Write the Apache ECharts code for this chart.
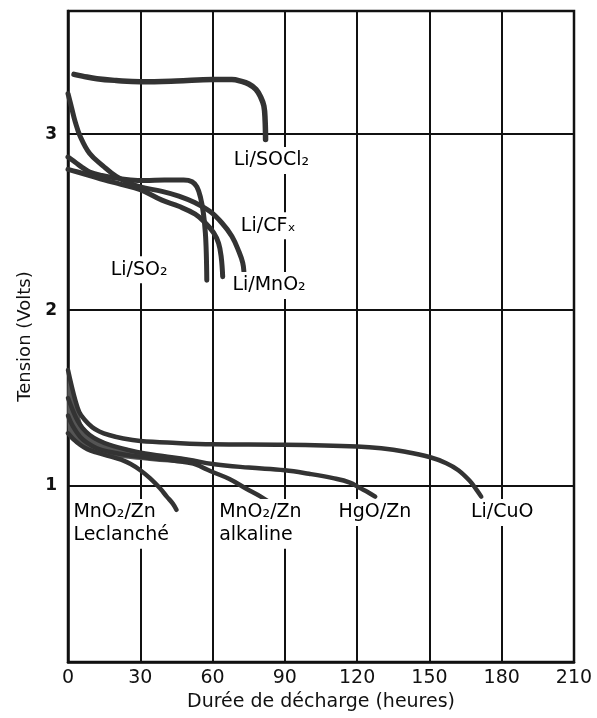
<!DOCTYPE html>
<html><head><meta charset="utf-8">
<script src="https://cdn.jsdelivr.net/npm/echarts@6/dist/echarts.min.js"></script>
<style>html,body{margin:0;padding:0;background:#fff}#c{width:597px;height:718px}</style>
</head><body><div id="c"></div>
<script>
// ---- data (x = hours, y = volts) ----
const liSOCl2 = [[2.5,3.34],[6,3.33],[12,3.315],[20,3.305],[30,3.298],[45,3.302],[60,3.31],[68,3.31],[72,3.30],[75,3.285],[78,3.255],[80,3.21],[81.3,3.16],[81.8,3.08],[82,2.97]];
const liSO2 = [[0,2.87],[3,2.84],[6,2.81],[9,2.785],[14,2.765],[20,2.75],[26,2.74],[32,2.737],[40,2.74],[48,2.74],[51.5,2.73],[53.5,2.70],[55,2.64],[56.2,2.55],[57,2.44],[57.4,2.32],[57.6,2.17]];
const liMnO2 = [[0,2.80],[4,2.785],[9,2.765],[15,2.74],[22,2.715],[30,2.685],[39,2.625],[46,2.59],[52.8,2.545],[57,2.495],[60.4,2.44],[62.5,2.38],[63.6,2.30],[64.2,2.19]];
const liCFx = [[0,3.23],[1.5,3.15],[3,3.07],[5,2.99],[9,2.89],[14.5,2.82],[20,2.76],[25,2.725],[30,2.70],[39,2.675],[46,2.648],[52.8,2.61],[59,2.56],[63.9,2.495],[68,2.42],[71,2.33],[72.5,2.27],[73,2.22]];
const liCuO = [[0,1.66],[1.5,1.57],[3,1.49],[4.7,1.42],[7,1.375],[10,1.335],[13,1.31],[17,1.29],[23,1.27],[30,1.256],[45,1.245],[60,1.238],[90,1.235],[120,1.225],[130,1.215],[140,1.195],[150,1.165],[157,1.13],[162,1.09],[166.7,1.03],[169.5,0.98],[171.5,0.94]];
const hgoZn = [[0,1.50],[2,1.43],[4,1.37],[6,1.33],[9,1.29],[12.6,1.26],[17,1.235],[25,1.205],[32,1.185],[40,1.17],[50,1.15],[60,1.125],[75,1.105],[90,1.09],[100,1.07],[110,1.045],[117,1.02],[121,0.99],[124.5,0.965],[127.5,0.94]];
const mnO2Alk = [[0,1.40],[2,1.34],[5,1.28],[8,1.245],[12,1.215],[17,1.195],[25,1.175],[35,1.158],[45,1.143],[52,1.128],[56,1.105],[60,1.08],[67,1.04],[74,0.985],[80,0.94],[85.5,0.89]];
const mnO2Lec = [[0,1.30],[2,1.27],[5,1.235],[8,1.21],[12,1.19],[17,1.17],[22,1.15],[26,1.125],[30,1.09],[34,1.045],[38,0.99],[41,0.94],[43.5,0.90],[45,0.865]];
// shaded envelope of the low-voltage start region
const wedgeTop = [[0,1.66],[1.5,1.57],[3,1.49],[4.5,1.42],[6,1.35],[9,1.30],[12.6,1.27],[17,1.245],[25,1.212],[32,1.192],[40,1.175],[50,1.158]];
const wedgeBottom = [[0,1.29],[1.5,1.26],[4,1.235],[7.4,1.21],[12,1.19],[16.6,1.17],[25,1.155],[32,1.145],[40,1.135],[50,1.13]];
// text annotations (left edge, vertical centre)
const labelNames = ['Li/SOCl₂','Li/CFₓ','Li/SO₂','Li/MnO₂','MnO₂/Zn','Leclanché','MnO₂/Zn','alkaline','HgO/Zn','Li/CuO'];
const labelAnchors = [[67.5,2.85],[70.5,2.48],[16.5,2.23],[67,2.14],[1,0.85],[1,0.72],[61.5,0.85],[61.5,0.72],[111,0.85],[166,0.85]];
const xTicks = [0,30,60,90,120,150,180,210];
const yTicks = [1,2,3];

const ink = '#111';
const curveColor = '#333';
const font = 'DejaVu Sans';

function curve(data, w) {
  return {
    type: 'line', data: data, showSymbol: false, symbol: 'none', smooth: 0.4,
    lineStyle: { color: curveColor, width: w, cap: 'round', join: 'round' }, z: 3, silent: true
  };
}

const chart = echarts.init(document.getElementById('c'), null, { renderer: 'canvas' });
chart.setOption({
  animation: false,
  backgroundColor: '#fff',
  grid: { left: 68, right: 23, top: 11, bottom: 56, show: true, borderColor: ink, borderWidth: 2.5, backgroundColor: 'transparent' },
  xAxis: {
    type: 'value', min: xTicks[0], max: xTicks[xTicks.length - 1], interval: 30,
    name: 'Durée de décharge (heures)', nameLocation: 'middle', nameGap: 31,
    nameTextStyle: { fontFamily: font, fontSize: 19, color: ink },
    axisLine: { show: true, lineStyle: { color: ink, width: 2.5 } },
    axisTick: { show: false },
    axisLabel: { fontFamily: font, fontSize: 19, color: ink, margin: 7 },
    splitLine: { show: true, lineStyle: { color: ink, width: 2 } }
  },
  yAxis: {
    type: 'value', min: 0, max: 3.7, interval: 1,
    name: 'Tension (Volts)', nameLocation: 'middle', nameGap: 34,
    nameTextStyle: { fontFamily: font, fontSize: 18, color: ink },
    axisLine: { show: true, lineStyle: { color: ink, width: 2.5 } },
    axisTick: { show: false },
    axisLabel: { fontFamily: font, fontSize: 17, fontWeight: 'bold', color: ink, margin: 11,
      formatter: v => (yTicks.indexOf(v) >= 0 ? String(v) : '') },
    splitLine: { show: true, lineStyle: { color: ink, width: 2 } }
  },
  series: [
    {
      type: 'custom', silent: true, z: 2, data: [wedgeTop[0]],
      renderItem: function (params, api) {
        const pts = wedgeTop.concat(wedgeBottom.slice().reverse()).map(p => api.coord(p));
        return { type: 'polygon', shape: { points: pts, smooth: 0.3 }, style: { fill: '#555' } };
      }
    },
    curve(liSOCl2, 5.5),
    curve(liSO2, 5),
    curve(liMnO2, 5),
    curve(liCFx, 5),
    curve(liCuO, 4.5),
    curve(hgoZn, 4.5),
    curve(mnO2Alk, 4.5),
    curve(mnO2Lec, 4.5),
    {
      type: 'scatter', silent: true, z: 5, symbolSize: 0, itemStyle: { opacity: 1 },
      data: labelNames.map((n, i) => ({ name: n, value: labelAnchors[i] })),
      label: {
        show: true, position: 'right', distance: 0, formatter: '{b}', opacity: 1,
        fontFamily: font, fontSize: 19, color: '#000', backgroundColor: '#fff', padding: [4, 3]
      }
    }
  ]
});
</script></body></html>
